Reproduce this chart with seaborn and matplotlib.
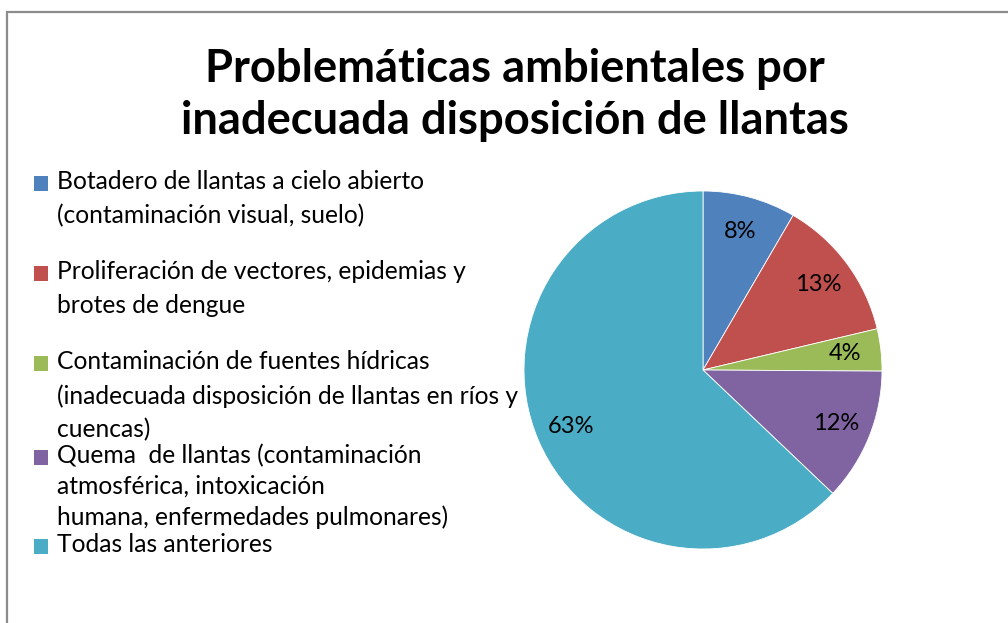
import matplotlib
matplotlib.use("Agg")
import matplotlib.pyplot as plt
import seaborn as sns
from matplotlib.patches import Rectangle

# datos (porcentajes)
categorias = [
    "Botadero de llantas a cielo abierto\n(contaminación visual, suelo)",
    "Proliferación de vectores, epidemias y\nbrotes de dengue",
    "Contaminación de fuentes hídricas\n(inadecuada disposición de llantas en ríos y\ncuencas)",
    "Quema  de llantas (contaminación\natmosférica, intoxicación\nhumana, enfermedades pulmonares)",
    "Todas las anteriores",
]
valores = [8.4, 12.9, 3.8, 12.0, 62.9]
colores = ["#4F81BD", "#C0504D", "#9BBB59", "#8064A2", "#4BACC6"]
titulo = "Problemáticas ambientales por\ninadecuada disposición de llantas"

sns.set_theme(style="white")
plt.rcParams['font.family'] = ['Lato', 'DejaVu Sans']

fig = plt.figure(figsize=(10.08, 6.23), dpi=100)

# marco gris del gráfico
fig.patches.append(Rectangle((7 / 1008, -0.05), 1.1, (623 - 12) / 623 + 0.05,
                             transform=fig.transFigure, fill=False,
                             edgecolor="#8c8c8c", linewidth=1.6))

# titulo
fig.text(515 / 1008, 1 - 95 / 623, titulo, ha="center", va="center",
         fontsize=32.7, fontweight="bold", linespacing=1.32, color="black")

# pie
ax = fig.add_axes([524 / 1008, (623 - 549) / 623, 358 / 1008, 358 / 623])
wedges, _, autotexts = ax.pie(valores, colors=colores, startangle=90, counterclock=False,
                              autopct="%.0f%%", pctdistance=0.8,
                              wedgeprops=dict(edgecolor="white", linewidth=0.6),
                              textprops=dict(fontsize=17, color="black"))
ax.set_xlim(-1, 1)
ax.set_ylim(-1, 1)
ax.set_aspect("equal")

# leyenda manual (posiciones como en el original)
y_tops = [183, 273, 363, 457, 546]
espaciado = [1.56, 1.56, 1.56, 1.4, 1.56]
for w, label, y, ls in zip(wedges, categorias, y_tops, espaciado):
    fig.patches.append(Rectangle((34 / 1008, 1 - (y + 8) / 623), 14 / 1008, 15 / 623,
                                 transform=fig.transFigure,
                                 facecolor=w.get_facecolor(), edgecolor="none"))
    fig.text(57 / 1008, 1 - (y - 13) / 623, label, ha="left", va="top",
             fontsize=17.7, linespacing=ls, color="black")

fig.savefig("out.png", dpi=100)
